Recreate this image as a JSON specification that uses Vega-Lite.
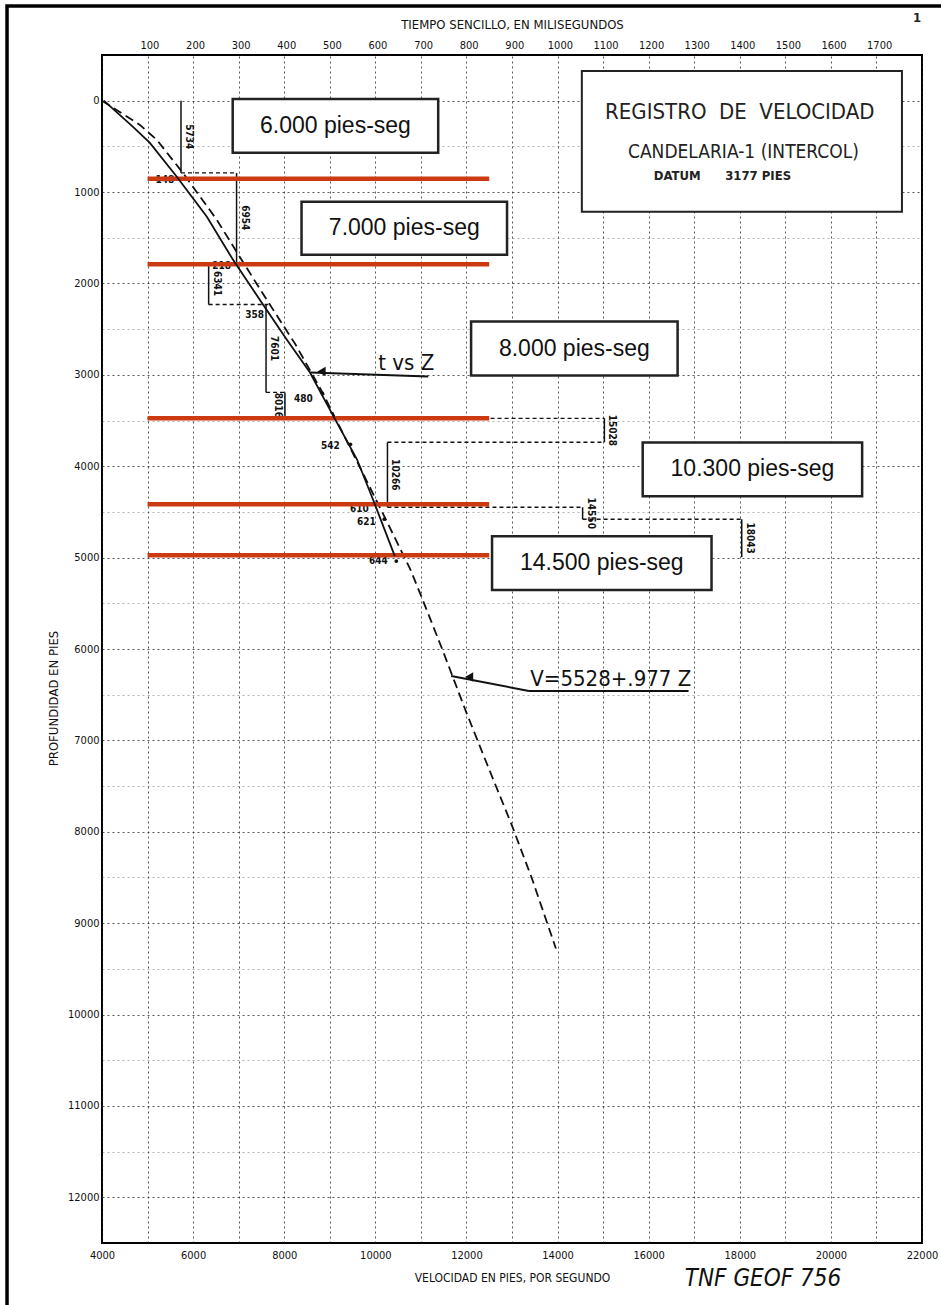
{
  "$schema": "https://vega.github.io/schema/vega-lite/v6.json",
  "width": 820,
  "height": 1188,
  "autosize": "none",
  "padding": {"left": 102, "top": 55, "right": 19, "bottom": 62},
  "background": "white",
  "config": {
    "view": {"stroke": "black", "strokeWidth": 2},
    "font": "DejaVu Sans Condensed, Liberation Sans Narrow, DejaVu Sans, sans-serif",
    "axis": {"ticks": false, "domain": false, "labelColor": "#111", "titleColor": "#111", "labelFont": "DejaVu Sans Condensed, Liberation Sans Narrow, DejaVu Sans, sans-serif", "titleFont": "DejaVu Sans Condensed, Liberation Sans Narrow, DejaVu Sans, sans-serif", "titleFontWeight": "normal"}
  },
  "datasets": {
    "dashed": [
      {"V": 4000, "depth": 0}, {"V": 4832, "depth": 265}, {"V": 5204, "depth": 429}, {"V": 5774, "depth": 789},
      {"V": 6518, "depth": 1302}, {"V": 7022, "depth": 1707}, {"V": 7613, "depth": 2176}, {"V": 8248, "depth": 2668},
      {"V": 8839, "depth": 3192}, {"V": 9431, "depth": 3782}, {"V": 10088, "depth": 4438}, {"V": 10766, "depth": 5126},
      {"V": 11007, "depth": 5421}, {"V": 11467, "depth": 6000}, {"V": 11993, "depth": 6688}, {"V": 12431, "depth": 7234},
      {"V": 13000, "depth": 7933}, {"V": 13438, "depth": 8512}, {"V": 13964, "depth": 9277}
    ],
    "tz": [
      {"t": 0, "depth": 0}, {"t": 64, "depth": 286}, {"t": 101, "depth": 461}, {"t": 160, "depth": 833},
      {"t": 226, "depth": 1270}, {"t": 283, "depth": 1739}, {"t": 349, "depth": 2231}, {"t": 401, "depth": 2613},
      {"t": 452, "depth": 2974}, {"t": 506, "depth": 3476}, {"t": 555, "depth": 3924}, {"t": 590, "depth": 4361},
      {"t": 638, "depth": 4984}
    ],
    "intervals": [
      {"V": 5734, "top": 0, "bottom": 790}, {"V": 6954, "top": 790, "bottom": 1772},
      {"V": 6341, "top": 1772, "bottom": 2231}, {"V": 7601, "top": 2231, "bottom": 3192},
      {"V": 8016, "top": 3192, "bottom": 3476}, {"V": 15028, "top": 3476, "bottom": 3738},
      {"V": 10266, "top": 3738, "bottom": 4449}, {"V": 14550, "top": 4449, "bottom": 4580},
      {"V": 18043, "top": 4580, "bottom": 4995}
    ],
    "connectors": [
      {"depth": 790, "V1": 5734, "V2": 6954}, {"depth": 1772, "V1": 6341, "V2": 6954},
      {"depth": 2231, "V1": 6341, "V2": 7650}, {"depth": 3192, "V1": 7601, "V2": 8016},
      {"depth": 3476, "V1": 5000, "V2": 15028}, {"depth": 3738, "V1": 10266, "V2": 15028},
      {"depth": 4449, "V1": 10266, "V2": 14550}, {"depth": 4580, "V1": 14550, "V2": 18043}
    ],
    "picks": [
      {"V": 5380, "depth": 866, "label": "148"}, {"V": 6628, "depth": 1805, "label": "218"},
      {"V": 7350, "depth": 2340, "label": "358"}, {"V": 8423, "depth": 3269, "label": "480"},
      {"V": 9015, "depth": 3782, "label": "542"}, {"V": 9650, "depth": 4470, "label": "610"},
      {"V": 9803, "depth": 4612, "label": "621"}, {"V": 10066, "depth": 5038, "label": "644"}
    ],
    "dots": [
      {"V": 8839, "depth": 3203}, {"V": 9453, "depth": 3760}, {"V": 10197, "depth": 4580}, {"V": 10460, "depth": 5038}
    ],
    "red": [
      {"depth": 855, "V1": 5000, "V2": 12500}, {"depth": 1790, "V1": 5000, "V2": 12500},
      {"depth": 3476, "V1": 5000, "V2": 12500}, {"depth": 4416, "V1": 5000, "V2": 12500},
      {"depth": 4973, "V1": 5000, "V2": 12500}
    ],
    "boxes": [
      {"V1": 6869, "V2": 11380, "d1": -19, "d2": 571, "label": "6.000 pies-seg"},
      {"V1": 8380, "V2": 12891, "d1": 1106, "d2": 1685, "label": "7.000 pies-seg"},
      {"V1": 12102, "V2": 16635, "d1": 2417, "d2": 3007, "label": "8.000 pies-seg"},
      {"V1": 15869, "V2": 20686, "d1": 3739, "d2": 4328, "label": "10.300 pies-seg"},
      {"V1": 12562, "V2": 17380, "d1": 4765, "d2": 5355, "label": "14.500 pies-seg"}
    ],
    "titlebox": [{"V1": 14533, "V2": 21560, "d1": -325, "d2": 1215}],
    "texts": [
      {"kind": "title1", "V": 18000, "depth": 123, "label": "REGISTRO\u00a0\u00a0DE\u00a0\u00a0VELOCIDAD"},
      {"kind": "title2", "V": 18080, "depth": 560, "label": "CANDELARIA-1 (INTERCOL)"},
      {"kind": "title3", "V": 17620, "depth": 822, "label": "DATUM\u00a0\u00a0\u00a0\u00a0\u00a0\u00a03177 PIES"},
      {"kind": "note", "V": 10679, "depth": 2865, "label": "t vs Z"},
      {"kind": "note", "V": 15168, "depth": 6328, "label": "V=5528+.977 Z"},
      {"kind": "hand", "V": 18510, "depth": 12894, "label": "TNF GEOF  756"},
      {"kind": "corner", "V": 21890, "depth": -905, "label": "1"}
    ],
    "arrows": [
      {"V1": 11161, "d1": 3017, "V2": 8577, "d2": 2974},
      {"V1": 13372, "d1": 6459, "V2": 16876, "d2": 6459},
      {"V1": 13372, "d1": 6459, "V2": 11664, "d2": 6295}
    ],
    "heads": [{"V": 8818, "depth": 2963}, {"V": 12058, "depth": 6306}],
    "frame": [{"V1": 1915, "V2": 22505, "d1": -1035, "d2": 13210}]
  },
  "resolve": {"scale": {"x": "independent"}, "axis": {"x": "independent"}},
  "layer": [
    {
      "layer": [
        {
          "data": {"name": "dashed"},
          "mark": {"type": "line", "stroke": "#111", "strokeWidth": 1.8, "strokeDash": [9, 5]},
          "encoding": {
            "x": {"field": "V", "type": "quantitative", "scale": {"domain": [4000, 22000], "nice": false, "zero": false},
              "axis": {"orient": "bottom", "title": "VELOCIDAD EN PIES, POR SEGUNDO",
                "values": [4000,4500,5000,5500,6000,6500,7000,7500,8000,8500,9000,9500,10000,10500,11000,11500,12000,12500,13000,13500,14000,14500,15000,15500,16000,16500,17000,17500,18000,18500,19000,19500,20000,20500,21000,21500,22000],
                "labelExpr": "datum.value % 2000 === 0 ? format(datum.value, 'd') : ''",
                "labelOverlap": false, "labelFlush": false, "labelFontSize": 11, "labelPadding": 6,
                "titleFontSize": 12, "titlePadding": 12,
                "grid": true, "gridDash": [2, 3], "gridColor": "#222",
                "gridOpacity": {"condition": {"test": "datum.value % 1000 === 0", "value": 0.75}, "value": 0.35}}},
            "y": {"field": "depth", "type": "quantitative", "scale": {"domain": [-500, 12500], "nice": false, "zero": false, "reverse": true},
              "axis": {"orient": "left", "title": "PROFUNDIDAD EN PIES",
                "values": [0,500,1000,1500,2000,2500,3000,3500,4000,4500,5000,5500,6000,6500,7000,7500,8000,8500,9000,9500,10000,10500,11000,11500,12000],
                "labelExpr": "datum.value % 1000 === 0 ? format(datum.value, 'd') : ''",
                "labelOverlap": false, "labelFlush": false, "labelFontSize": 11, "labelPadding": 3,
                "titleFontSize": 13, "titleX": -49, "titleY": 643, "titleAngle": -90, "titleAlign": "center", "titleBaseline": "middle",
                "grid": true, "gridDash": [2, 3], "gridColor": "#222",
                "gridOpacity": {"condition": {"test": "datum.value % 1000 === 0", "value": 0.75}, "value": 0.35}}},
            "order": {"field": "depth", "type": "quantitative"}
          }
        },
        {
          "data": {"name": "intervals"},
          "mark": {"type": "rule", "stroke": "#111", "strokeWidth": 1.5},
          "encoding": {
            "x": {"field": "V", "type": "quantitative", "scale": {"domain": [4000, 22000], "nice": false, "zero": false}},
            "y": {"field": "top", "type": "quantitative", "scale": {"domain": [-500, 12500], "nice": false, "zero": false, "reverse": true}},
            "y2": {"field": "bottom"}
          }
        },
        {
          "data": {"name": "intervals"},
          "transform": [{"filter": "datum.V !== 8016"}, {"calculate": "(datum.top + datum.bottom) / 2", "as": "mid"}],
          "mark": {"type": "text", "angle": 90, "dy": -8, "fontSize": 10, "fontWeight": "bold", "fill": "#111", "align": "center", "baseline": "middle"},
          "encoding": {
            "x": {"field": "V", "type": "quantitative", "scale": {"domain": [4000, 22000], "nice": false, "zero": false}},
            "y": {"field": "mid", "type": "quantitative", "scale": {"domain": [-500, 12500], "nice": false, "zero": false, "reverse": true}},
            "text": {"field": "V", "type": "quantitative", "format": "d"}
          }
        },
        {
          "data": {"name": "intervals"},
          "transform": [{"filter": "datum.V === 8016"}, {"calculate": "(datum.top + datum.bottom) / 2", "as": "mid"}],
          "mark": {"type": "text", "angle": 90, "dy": 7, "fontSize": 10, "fontWeight": "bold", "fill": "#111", "align": "center", "baseline": "middle"},
          "encoding": {
            "x": {"field": "V", "type": "quantitative", "scale": {"domain": [4000, 22000], "nice": false, "zero": false}},
            "y": {"field": "mid", "type": "quantitative", "scale": {"domain": [-500, 12500], "nice": false, "zero": false, "reverse": true}},
            "text": {"field": "V", "type": "quantitative", "format": "d"}
          }
        },
        {
          "data": {"name": "connectors"},
          "mark": {"type": "rule", "stroke": "#111", "strokeWidth": 1.4, "strokeDash": [4, 3]},
          "encoding": {
            "x": {"field": "V1", "type": "quantitative", "scale": {"domain": [4000, 22000], "nice": false, "zero": false}},
            "x2": {"field": "V2"},
            "y": {"field": "depth", "type": "quantitative", "scale": {"domain": [-500, 12500], "nice": false, "zero": false, "reverse": true}}
          }
        },
        {
          "data": {"name": "picks"},
          "mark": {"type": "text", "fontSize": 10, "fontWeight": "bold", "fill": "#111", "align": "center", "baseline": "middle"},
          "encoding": {
            "x": {"field": "V", "type": "quantitative", "scale": {"domain": [4000, 22000], "nice": false, "zero": false}},
            "y": {"field": "depth", "type": "quantitative", "scale": {"domain": [-500, 12500], "nice": false, "zero": false, "reverse": true}},
            "text": {"field": "label"}
          }
        },
        {
          "data": {"name": "dots"},
          "mark": {"type": "point", "filled": true, "fill": "#111", "size": 14, "opacity": 1},
          "encoding": {
            "x": {"field": "V", "type": "quantitative", "scale": {"domain": [4000, 22000], "nice": false, "zero": false}},
            "y": {"field": "depth", "type": "quantitative", "scale": {"domain": [-500, 12500], "nice": false, "zero": false, "reverse": true}}
          }
        },
        {
          "data": {"name": "red"},
          "mark": {"type": "rule", "stroke": "#cc3a12", "strokeWidth": 4.5},
          "encoding": {
            "x": {"field": "V1", "type": "quantitative", "scale": {"domain": [4000, 22000], "nice": false, "zero": false}},
            "x2": {"field": "V2"},
            "y": {"field": "depth", "type": "quantitative", "scale": {"domain": [-500, 12500], "nice": false, "zero": false, "reverse": true}}
          }
        },
        {
          "data": {"name": "boxes"},
          "mark": {"type": "rect", "fill": "white", "stroke": "#222", "strokeWidth": 2.5},
          "encoding": {
            "x": {"field": "V1", "type": "quantitative", "scale": {"domain": [4000, 22000], "nice": false, "zero": false}},
            "x2": {"field": "V2"},
            "y": {"field": "d1", "type": "quantitative", "scale": {"domain": [-500, 12500], "nice": false, "zero": false, "reverse": true}},
            "y2": {"field": "d2"}
          }
        },
        {
          "data": {"name": "boxes"},
          "transform": [{"calculate": "(datum.V1 + datum.V2) / 2", "as": "Vc"}, {"calculate": "(datum.d1 + datum.d2) / 2", "as": "dc"}],
          "mark": {"type": "text", "font": "Liberation Sans, Arial, sans-serif", "fontSize": 23, "fill": "#111", "align": "center", "baseline": "middle"},
          "encoding": {
            "x": {"field": "Vc", "type": "quantitative", "scale": {"domain": [4000, 22000], "nice": false, "zero": false}},
            "y": {"field": "dc", "type": "quantitative", "scale": {"domain": [-500, 12500], "nice": false, "zero": false, "reverse": true}},
            "text": {"field": "label"}
          }
        },
        {
          "data": {"name": "titlebox"},
          "mark": {"type": "rect", "fill": "white", "stroke": "#222", "strokeWidth": 2},
          "encoding": {
            "x": {"field": "V1", "type": "quantitative", "scale": {"domain": [4000, 22000], "nice": false, "zero": false}},
            "x2": {"field": "V2"},
            "y": {"field": "d1", "type": "quantitative", "scale": {"domain": [-500, 12500], "nice": false, "zero": false, "reverse": true}},
            "y2": {"field": "d2"}
          }
        },
        {
          "data": {"name": "texts"},
          "transform": [{"filter": "datum.kind === 'title1'"}],
          "mark": {"type": "text", "fontSize": 22, "fill": "#222", "align": "center", "baseline": "middle"},
          "encoding": {
            "x": {"field": "V", "type": "quantitative", "scale": {"domain": [4000, 22000], "nice": false, "zero": false}},
            "y": {"field": "depth", "type": "quantitative", "scale": {"domain": [-500, 12500], "nice": false, "zero": false, "reverse": true}},
            "text": {"field": "label"}
          }
        },
        {
          "data": {"name": "texts"},
          "transform": [{"filter": "datum.kind === 'title2'"}],
          "mark": {"type": "text", "fontSize": 19, "fill": "#222", "align": "center", "baseline": "middle"},
          "encoding": {
            "x": {"field": "V", "type": "quantitative", "scale": {"domain": [4000, 22000], "nice": false, "zero": false}},
            "y": {"field": "depth", "type": "quantitative", "scale": {"domain": [-500, 12500], "nice": false, "zero": false, "reverse": true}},
            "text": {"field": "label"}
          }
        },
        {
          "data": {"name": "texts"},
          "transform": [{"filter": "datum.kind === 'title3'"}],
          "mark": {"type": "text", "fontSize": 13, "fontWeight": "bold", "fill": "#222", "align": "center", "baseline": "middle"},
          "encoding": {
            "x": {"field": "V", "type": "quantitative", "scale": {"domain": [4000, 22000], "nice": false, "zero": false}},
            "y": {"field": "depth", "type": "quantitative", "scale": {"domain": [-500, 12500], "nice": false, "zero": false, "reverse": true}},
            "text": {"field": "label"}
          }
        },
        {
          "data": {"name": "texts"},
          "transform": [{"filter": "datum.kind === 'note'"}],
          "mark": {"type": "text", "fontSize": 22, "fill": "#111", "align": "center", "baseline": "middle"},
          "encoding": {
            "x": {"field": "V", "type": "quantitative", "scale": {"domain": [4000, 22000], "nice": false, "zero": false}},
            "y": {"field": "depth", "type": "quantitative", "scale": {"domain": [-500, 12500], "nice": false, "zero": false, "reverse": true}},
            "text": {"field": "label"}
          }
        },
        {
          "data": {"name": "texts"},
          "transform": [{"filter": "datum.kind === 'hand'"}],
          "mark": {"type": "text", "fontSize": 24, "fontStyle": "italic", "fill": "#111", "align": "center", "baseline": "middle"},
          "encoding": {
            "x": {"field": "V", "type": "quantitative", "scale": {"domain": [4000, 22000], "nice": false, "zero": false}},
            "y": {"field": "depth", "type": "quantitative", "scale": {"domain": [-500, 12500], "nice": false, "zero": false, "reverse": true}},
            "text": {"field": "label"}
          }
        },
        {
          "data": {"name": "texts"},
          "transform": [{"filter": "datum.kind === 'corner'"}],
          "mark": {"type": "text", "fontSize": 13, "fontWeight": "bold", "fill": "#222", "align": "center", "baseline": "middle"},
          "encoding": {
            "x": {"field": "V", "type": "quantitative", "scale": {"domain": [4000, 22000], "nice": false, "zero": false}},
            "y": {"field": "depth", "type": "quantitative", "scale": {"domain": [-500, 12500], "nice": false, "zero": false, "reverse": true}},
            "text": {"field": "label"}
          }
        },
        {
          "data": {"name": "arrows"},
          "mark": {"type": "rule", "stroke": "#111", "strokeWidth": 2},
          "encoding": {
            "x": {"field": "V1", "type": "quantitative", "scale": {"domain": [4000, 22000], "nice": false, "zero": false}},
            "x2": {"field": "V2"},
            "y": {"field": "d1", "type": "quantitative", "scale": {"domain": [-500, 12500], "nice": false, "zero": false, "reverse": true}},
            "y2": {"field": "d2"}
          }
        },
        {
          "data": {"name": "heads"},
          "mark": {"type": "point", "shape": "triangle-left", "filled": true, "fill": "#111", "size": 90, "opacity": 1},
          "encoding": {
            "x": {"field": "V", "type": "quantitative", "scale": {"domain": [4000, 22000], "nice": false, "zero": false}},
            "y": {"field": "depth", "type": "quantitative", "scale": {"domain": [-500, 12500], "nice": false, "zero": false, "reverse": true}}
          }
        },
        {
          "data": {"name": "frame"},
          "mark": {"type": "rect", "fill": null, "fillOpacity": 0, "stroke": "#000", "strokeWidth": 3.5},
          "encoding": {
            "x": {"field": "V1", "type": "quantitative", "scale": {"domain": [4000, 22000], "nice": false, "zero": false}},
            "x2": {"field": "V2"},
            "y": {"field": "d1", "type": "quantitative", "scale": {"domain": [-500, 12500], "nice": false, "zero": false, "reverse": true}},
            "y2": {"field": "d2"}
          }
        }
      ]
    },
    {
      "data": {"name": "tz"},
      "mark": {"type": "line", "stroke": "#111", "strokeWidth": 1.8},
      "encoding": {
        "x": {"field": "t", "type": "quantitative", "scale": {"domain": [-4, 1794], "nice": false, "zero": false},
          "axis": {"orient": "top", "title": "TIEMPO SENCILLO, EN MILISEGUNDOS", "format": "d",
            "values": [100,200,300,400,500,600,700,800,900,1000,1100,1200,1300,1400,1500,1600,1700],
            "grid": false, "labelFontSize": 11, "labelPadding": 5, "titleFontSize": 13, "titlePadding": 8, "labelFlush": false, "labelOverlap": false}},
        "y": {"field": "depth", "type": "quantitative", "scale": {"domain": [-500, 12500], "nice": false, "zero": false, "reverse": true}},
        "order": {"field": "depth", "type": "quantitative"}
      }
    }
  ]
}
